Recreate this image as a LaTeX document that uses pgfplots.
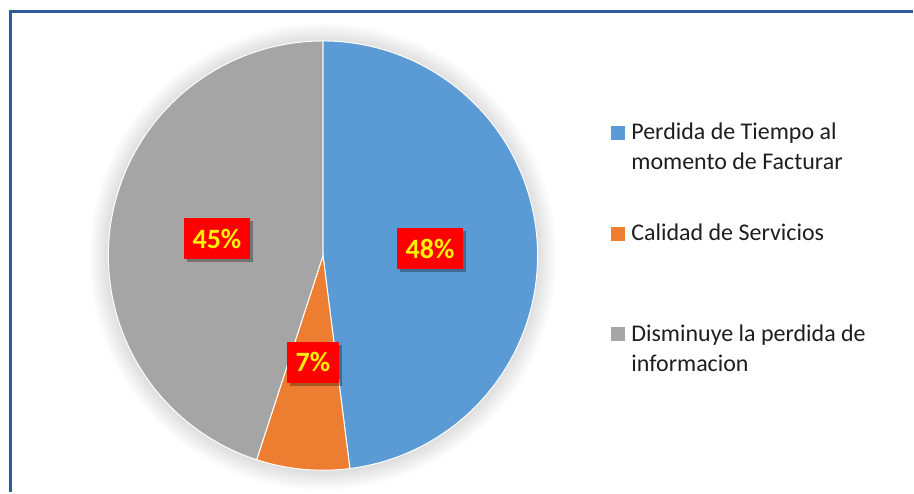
\documentclass[border=0pt]{standalone}
\usepackage{pgfplots}
\pgfplotsset{compat=1.18}
\usepackage{pgfplotstable}
\usepackage{fontspec}
\setmainfont{Carlito}
\usetikzlibrary{shadows}

\definecolor{sliceblue}{RGB}{91,155,213}
\definecolor{sliceorange}{RGB}{237,125,49}
\definecolor{slicegray}{RGB}{165,165,165}
\definecolor{framecol}{RGB}{52,90,160}
\definecolor{legtext}{RGB}{30,30,30}

\tikzset{
  lbl/.style={fill=red, text=yellow, font=\bfseries\fontsize{14}{15}\selectfont,
    inner xsep=4.2pt, inner ysep=0pt, minimum height=20.5pt,
    drop shadow={shadow xshift=1.5pt, shadow yshift=-1.5pt, opacity=0.3, fill=black}},
  legtxt/.style={anchor=base west, inner sep=0pt, text=legtext, font=\fontsize{12}{15}\selectfont},
}

\pgfplotstableread{
label value
Perdida 48
Calidad 7
Disminuye 45
}\piedata

\begin{document}
\begin{tikzpicture}
\pgfplotstablegetelem{0}{value}\of\piedata \let\va\pgfplotsretval
\pgfplotstablegetelem{1}{value}\of\piedata \let\vb\pgfplotsretval
\pgfplotstablegetelem{2}{value}\of\piedata \let\vc\pgfplotsretval
\pgfmathsetmacro\tot{\va+\vb+\vc}
\pgfmathsetmacro\aA{90}
\pgfmathsetmacro\aB{90-(\va/\tot)*360}
\pgfmathsetmacro\aC{\aB-(\vb/\tot)*360}
\pgfmathsetmacro\aD{\aC-(\vc/\tot)*360}
\def\cx{323.5}\def\cy{237}\def\R{215}
\pgfmathsetmacro\lAx{\cx+0.5*\R*cos((\aA+\aB)/2)}
\pgfmathsetmacro\lAy{\cy+0.5*\R*sin((\aA+\aB)/2)}
\pgfmathsetmacro\lBx{\cx+0.5*\R*cos((\aB+\aC)/2)}
\pgfmathsetmacro\lBy{\cy+0.5*\R*sin((\aB+\aC)/2)}
\pgfmathsetmacro\lCx{\cx+0.5*\R*cos((\aC+\aD)/2)}
\pgfmathsetmacro\lCy{\cy+0.5*\R*sin((\aC+\aD)/2)}
\begin{axis}[
  scale only axis, width=457pt, height=246.5pt,
  xmin=0, xmax=914, ymin=0, ymax=493,
  hide axis, clip=false,
]
\path (axis cs:0,0) rectangle (axis cs:914,493);
% soft shadow around the pie
\pgfplotsinvokeforeach{1,...,16}{
  \fill[black, opacity=0.008] (axis cs:\cx,\cy-1) circle[radius={107.5pt+#1*0.6pt}];
}
% slices
\addplot[fill=sliceblue, draw=white, line width=0.5pt, domain=\aB:\aA, samples=120, variable=\t]
  ({\cx+\R*cos(\t)}, {\cy+\R*sin(\t)}) -- (axis cs:\cx,\cy) -- cycle;
\addplot[fill=sliceorange, draw=white, line width=0.5pt, domain=\aC:\aB, samples=30, variable=\t]
  ({\cx+\R*cos(\t)}, {\cy+\R*sin(\t)}) -- (axis cs:\cx,\cy) -- cycle;
\addplot[fill=slicegray, draw=white, line width=0.5pt, domain=\aD:\aC, samples=120, variable=\t]
  ({\cx+\R*cos(\t)}, {\cy+\R*sin(\t)}) -- (axis cs:\cx,\cy) -- cycle;
% data labels
\node[lbl] at (axis cs:\lAx,\lAy) {\va\%};
\node[lbl] at (axis cs:\lBx,\lBy) {\vb\%};
\node[lbl] at (axis cs:\lCx,\lCy) {\vc\%};
% legend
\fill[sliceblue] (axis cs:612,353) rectangle (axis cs:626,367);
\node[legtxt] at (axis cs:632,353) {Perdida de Tiempo al};
\node[legtxt] at (axis cs:632,323) {momento de Facturar};
\fill[sliceorange] (axis cs:612,252) rectangle (axis cs:626,266);
\node[legtxt] at (axis cs:632,252) {Calidad de Servicios};
\fill[slicegray] (axis cs:612,151) rectangle (axis cs:626,165);
\node[legtxt] at (axis cs:632,151) {Disminuye la perdida de};
\node[legtxt] at (axis cs:632,121) {informacion};
% frame
\draw[framecol, line width=1.5pt] (axis cs:10.5,0) -- (axis cs:10.5,481.5) -- (axis cs:914,481.5);
\end{axis}
\end{tikzpicture}
\end{document}
